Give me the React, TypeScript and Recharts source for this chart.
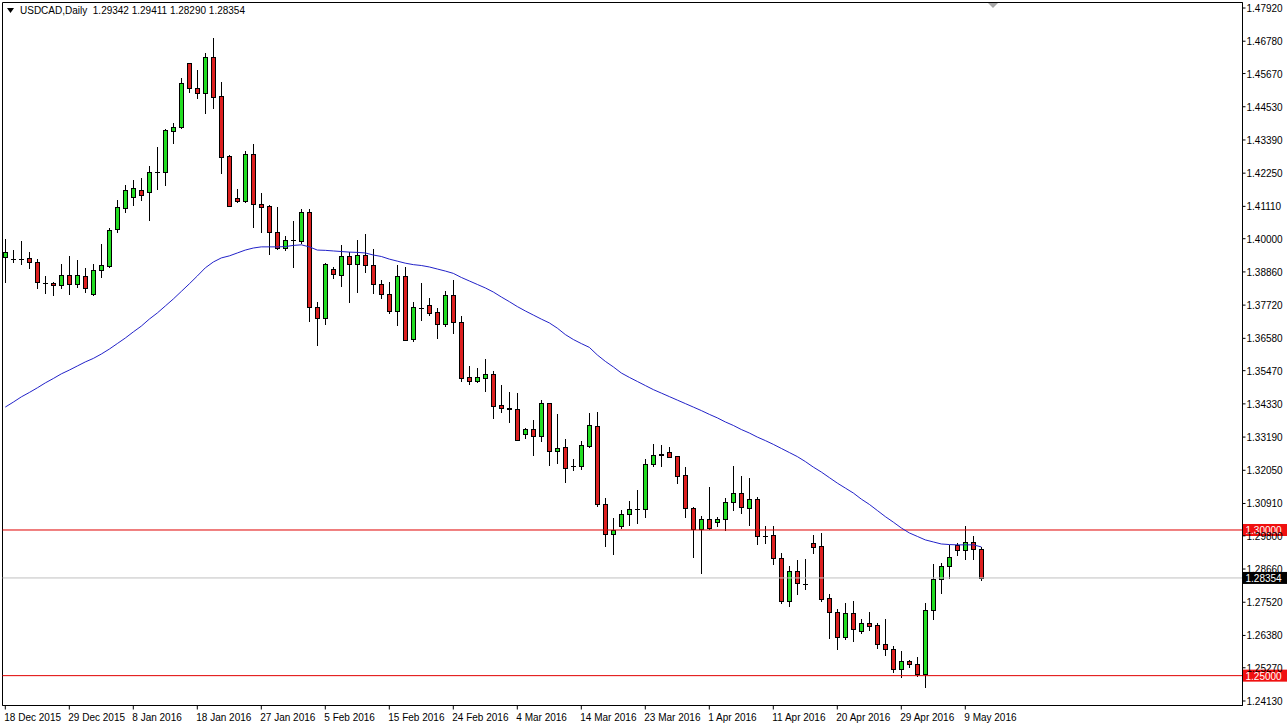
import React from "react";
import { ComposedChart, Bar, Line, XAxis, YAxis, ReferenceLine, ReferenceArea } from "recharts";

const FONT = "'Liberation Sans', Arial, sans-serif";
const GREEN = "#22dd22";
const RED = "#dd1f1f";

// daily bars, USDCAD (Sunday bars included, as the broker feed shows them)
const open = [1.3936,1.3932,1.3931,1.3934,1.3919,1.3849,1.3847,1.3840,1.3874,1.3844,
1.3871,1.3810,1.3892,1.3908,1.4033,1.4105,1.4143,1.4167,1.4159,1.4230,
1.4230,1.4371,1.4385,1.4602,1.4516,1.4499,1.4623,1.4490,1.4284,1.4139,
1.4131,1.4290,1.4119,1.4112,1.4022,1.3967,1.3996,1.3993,1.4093,1.3765,
1.3727,1.3895,1.3876,1.3941,1.3912,1.3944,1.3910,1.3844,1.3809,1.3752,
1.3872,1.3655,1.3762,1.3772,1.3749,1.3707,1.3807,1.3715,1.3524,1.3512,
1.3523,1.3535,1.3429,1.3418,1.3414,1.3329,1.3346,1.3324,1.3435,1.3272,
1.3284,1.3221,1.3221,1.3290,1.3357,1.3089,1.2985,1.3014,1.3054,1.3071,
1.3071,1.3227,1.3260,1.3267,1.3254,1.3189,1.3075,1.3002,1.3037,1.3029,
1.3037,1.3096,1.3126,1.3075,1.3105,1.2981,1.2983,1.2903,1.2757,1.2859,
1.2815,1.2954,1.2945,1.2765,1.2718,1.2634,1.2714,1.2654,1.2680,1.2674,
1.2609,1.2591,1.2523,1.2551,1.2539,1.2506,1.2725,1.2831,1.2877,1.2949,
1.2931,1.2960,1.29342];

const high = [1.3999,1.3961,1.3992,1.3953,1.3932,1.3872,1.3850,1.3912,1.3941,1.3927,
1.3900,1.3912,1.3981,1.4036,1.4133,1.4184,1.4202,1.4209,1.4250,1.4314,
1.4378,1.4396,1.4551,1.4603,1.4579,1.4639,1.4688,1.4539,1.4286,1.4170,
1.4301,1.4325,1.4156,1.4116,1.4108,1.4009,1.4061,1.4102,1.4102,1.3784,
1.3917,1.3904,1.3978,1.3956,1.3996,1.4016,1.3964,1.3858,1.3852,1.3910,
1.3904,1.3784,1.3847,1.3795,1.3761,1.3821,1.3858,1.3735,1.3563,1.3555,
1.3586,1.3547,1.3498,1.3473,1.3469,1.3349,1.3378,1.3446,1.3436,1.3398,
1.3311,1.3243,1.3307,1.3401,1.3404,1.3109,1.3040,1.3069,1.3101,1.3137,
1.3243,1.3295,1.3292,1.3286,1.3255,1.3217,1.3078,1.3048,1.3147,1.3046,
1.3109,1.3220,1.3185,1.3178,1.3114,1.3014,1.3014,1.2920,1.2877,1.2897,
1.2900,1.2983,1.2989,1.2780,1.2728,1.2748,1.2756,1.2693,1.2718,1.2682,
1.2694,1.2602,1.2586,1.2554,1.2563,1.2748,1.2883,1.2886,1.2949,1.2954,
1.3014,1.2980,1.29411];

const low = [1.3853,1.3919,1.3912,1.3900,1.3832,1.3815,1.3807,1.3832,1.3811,1.3835,
1.3818,1.3807,1.3870,1.3904,1.4022,1.4092,1.4116,1.4133,1.4064,1.4171,
1.4184,1.4330,1.4381,1.4505,1.4484,1.4431,1.4448,1.4225,1.4112,1.4127,
1.4127,1.4041,1.4024,1.3947,1.3964,1.3961,1.3904,1.3984,1.3719,1.3635,
1.3706,1.3864,1.3838,1.3784,1.3818,1.3887,1.3813,1.3797,1.3744,1.3704,
1.3651,1.3649,1.3721,1.3738,1.3658,1.3700,1.3675,1.3512,1.3501,1.3509,
1.3478,1.3384,1.3406,1.3370,1.3308,1.3317,1.3257,1.3307,1.3223,1.3229,
1.3166,1.3206,1.3210,1.3286,1.3083,1.2944,1.2918,1.3006,1.3017,1.3025,
1.3046,1.3218,1.3221,1.3251,1.3163,1.3046,1.2908,1.2853,1.3002,1.3015,
1.3000,1.3069,1.3060,1.3017,1.2951,1.2957,1.2882,1.2748,1.2740,1.2780,
1.2797,1.2922,1.2757,1.2628,1.2591,1.2625,1.2620,1.2645,1.2656,1.2594,
1.2571,1.2513,1.2497,1.2529,1.2500,1.2460,1.2695,1.2783,1.2834,1.2914,
1.2900,1.2899,1.28290];

const close = [1.3953,1.3930,1.3930,1.3919,1.3850,1.3848,1.3840,1.3874,1.3844,1.3874,
1.3830,1.3893,1.3909,1.4030,1.4109,1.4167,1.4174,1.4150,1.4230,1.4229,
1.4373,1.4385,1.4534,1.4516,1.4499,1.4623,1.4487,1.4282,1.4113,1.4131,
1.4290,1.4119,1.4110,1.4022,1.3967,1.3996,1.3995,1.4091,1.3765,1.3727,
1.3913,1.3878,1.3941,1.3912,1.3944,1.3910,1.3844,1.3809,1.3752,1.3872,
1.3652,1.3765,1.3761,1.3746,1.3707,1.3807,1.3715,1.3523,1.3512,1.3524,
1.3535,1.3427,1.3418,1.3417,1.3309,1.3346,1.3324,1.3435,1.3272,1.3283,
1.3212,1.3220,1.3292,1.3361,1.3089,1.2985,1.3000,1.3055,1.3072,1.3072,
1.3227,1.3258,1.3259,1.3252,1.3186,1.3075,1.3002,1.3037,1.3008,1.3038,
1.3096,1.3126,1.3078,1.3105,1.2980,1.2980,1.2903,1.2757,1.2859,1.2817,
1.2814,1.2943,1.2763,1.2718,1.2634,1.2714,1.2659,1.2680,1.2672,1.2608,
1.2591,1.2522,1.2551,1.2539,1.2506,1.2725,1.2831,1.2877,1.2906,1.2931,
1.2960,1.2934,1.28354];

// blue moving average
const ma = [1.3422,1.3439,1.3457,1.3472,1.3488,1.3505,1.3520,1.3536,1.3549,1.3563,
1.3577,1.3589,1.3604,1.3621,1.3640,1.3659,1.3680,1.3700,1.3724,1.3745,
1.3769,1.3793,1.3819,1.3845,1.3872,1.3900,1.3920,1.3934,1.3941,1.3951,
1.3961,1.3968,1.3972,1.3972,1.3972,1.3973,1.3977,1.3979,1.3972,1.3961,
1.3960,1.3958,1.3956,1.3954,1.3953,1.3951,1.3944,1.3939,1.3930,1.3923,
1.3916,1.3911,1.3908,1.3903,1.3896,1.3889,1.3881,1.3867,1.3855,1.3843,
1.3831,1.3817,1.3800,1.3784,1.3767,1.3752,1.3738,1.3724,1.3711,1.3693,
1.3671,1.3654,1.3640,1.3627,1.3601,1.3579,1.3560,1.3539,1.3524,1.3510,
1.3496,1.3482,1.3470,1.3458,1.3446,1.3434,1.3422,1.3410,1.3397,1.3385,
1.3371,1.3359,1.3345,1.3333,1.3319,1.3307,1.3294,1.3280,1.3266,1.3252,
1.3235,1.3216,1.3199,1.3180,1.3161,1.3144,1.3127,1.3106,1.3088,1.3067,
1.3046,1.3027,1.3007,1.2990,1.2978,1.2966,1.2959,1.2952,1.2950,1.2949,
1.2949,1.2949,1.2942];

const dateTicks = [0, 8, 16, 24, 32, 40, 48, 56, 64, 72, 80, 88, 96, 104, 112, 120];
const dateLabels = ["18 Dec 2015", "29 Dec 2015", "8 Jan 2016", "18 Jan 2016", "27 Jan 2016",
  "5 Feb 2016", "15 Feb 2016", "24 Feb 2016", "4 Mar 2016", "14 Mar 2016", "23 Mar 2016",
  "1 Apr 2016", "11 Apr 2016", "20 Apr 2016", "29 Apr 2016", "9 May 2016"];

const priceTicks = [1.4792, 1.4678, 1.4567, 1.4453, 1.4339, 1.4225, 1.4111, 1.4, 1.3886,
  1.3772, 1.3658, 1.3547, 1.3433, 1.3319, 1.3205, 1.3091, 1.298, 1.2866, 1.2752, 1.2638,
  1.2527, 1.2413];

const levels = [1.3, 1.25];
const lastPrice = 1.28354;

const rows = open.map((o, i) => ({ i, o, h: high[i], l: low[i], c: close[i], ma: ma[i] }));

const X_DOMAIN: [number, number] = [-0.35, 154.65];
const Y_DOMAIN: [number, number] = [1.23975, 1.48109];

function Candle(props: any) {
  const { x, y, width, height, payload } = props;
  if (!payload || height == null) return null;
  const { o, h, l, c } = payload;
  const py = (v: number) => y + ((h - v) / (h - l)) * height;
  const cx = Math.round(x + width / 2);
  const top = Math.round(py(Math.max(o, c)));
  const bot = Math.round(py(Math.min(o, c)));
  return (
    <g>
      <line x1={cx + 0.5} x2={cx + 0.5} y1={Math.round(y)} y2={Math.round(y + height) + 1} stroke="#000" />
      {bot - top < 1 ? (
        <line x1={cx - 2} x2={cx + 3} y1={top + 0.5} y2={top + 0.5} stroke="#000" />
      ) : (
        <rect x={cx - 1.5} y={top + 0.5} width={4} height={bot - top} fill={c >= o ? GREEN : RED} stroke="#000" />
      )}
    </g>
  );
}

function PriceTick({ x, y, payload }: any) {
  return (
    <text x={x} y={y} dy={4} fontSize={10} fontFamily={FONT} fill="#000" textAnchor="start">
      {payload.value.toFixed(5)}
    </text>
  );
}

function DateTick({ x, y, payload }: any) {
  const k = dateTicks.indexOf(payload.value);
  return (
    <text x={x - 1} y={y} dy={9} fontSize={10} fontFamily={FONT} fill="#000" textAnchor="start">
      {dateLabels[k]}
    </text>
  );
}

function Tag({ viewBox, text, bg }: any) {
  if (!viewBox) return null;
  const left = viewBox.x + viewBox.width;
  const y = viewBox.y;
  return (
    <g>
      <rect x={left} y={y - 6} width={45} height={12} fill={bg} />
      <text x={left + 3} y={y + 4} fontSize={10} fontFamily={FONT} fill="#fff">{text}</text>
    </g>
  );
}

export default function App() {
  return (
    <div style={{ position: "absolute", left: 0, top: 0, width: 1287, height: 727, background: "#fff" }}>
      <ComposedChart width={1287} height={727} data={rows}
        margin={{ top: 2.5, right: 0, bottom: 0, left: 2.5 }}>
        <ReferenceArea x1={X_DOMAIN[0]} x2={X_DOMAIN[1]} y1={Y_DOMAIN[0]} y2={Y_DOMAIN[1]}
          fill="none" stroke="#000" ifOverflow="visible" />
        <XAxis type="number" dataKey="i" domain={X_DOMAIN} allowDataOverflow ticks={dateTicks}
          tick={<DateTick />} tickSize={4} height={21.5} tickLine={{ stroke: "#000" }}
          axisLine={{ stroke: "#000" }} interval={0} />
        <YAxis orientation="right" type="number" domain={Y_DOMAIN} allowDataOverflow ticks={priceTicks}
          tick={<PriceTick />} tickSize={3} tickMargin={1} width={44.5} interval={0}
          tickLine={{ stroke: "#000" }} axisLine={{ stroke: "#000" }} />
        <ReferenceLine y={lastPrice} stroke="#c0c0c0" ifOverflow="visible"
          label={<Tag text={lastPrice.toFixed(5)} bg="#000" />} />
        {levels.map((v) => (
          <ReferenceLine key={v} y={v} stroke="#e00000" ifOverflow="visible"
            label={<Tag text={v.toFixed(5)} bg="#f01010" />} />
        ))}
        <Line type="linear" dataKey="ma" stroke="#2222c8" strokeWidth={1} dot={false}
          activeDot={false} isAnimationActive={false} />
        <Bar dataKey={(d: any) => [d.l, d.h]} barSize={5} shape={<Candle />} isAnimationActive={false} />
      </ComposedChart>
      <div style={{ position: "absolute", left: 7, top: 5, fontFamily: FONT, fontSize: 10, whiteSpace: "pre", color: "#000", display: "flex", alignItems: "center" }}>
        <svg width={8} height={6} style={{ marginRight: 5 }}><polygon points="0,0 7,0 3.5,5" fill="#000" /></svg>
        {"USDCAD,Daily  1.29342 1.29411 1.28290 1.28354"}
      </div>
      <svg style={{ position: "absolute", left: 988, top: 3 }} width={12} height={7}>
        <polygon points="0,0 10,0 5,5" fill="#a8a8a8" />
      </svg>
    </div>
  );
}
